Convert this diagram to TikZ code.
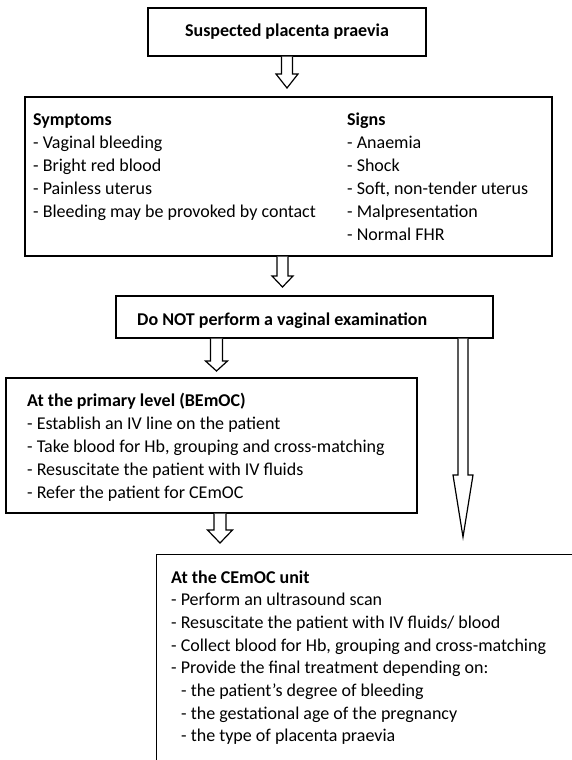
\documentclass[tikz,border=0pt]{standalone}
\usepackage{fontspec}
\setmainfont{Carlito}
\usetikzlibrary{calc}
\tikzset{
  box/.style={draw, line width=1.3pt, inner sep=0pt},
  blockarr/.style={draw, line width=1.2pt, line join=miter, fill=white},
  txt/.style={anchor=base west, inner sep=0pt, font=\fontsize{18}{23}\selectfont},
  headtxt/.style={txt, font=\fontsize{18}{23}\selectfont\bfseries},
}
% hollow block arrow: start point, tip, shaft width, head width, head length
\newcommand{\blockarrow}[5]{%
  \draw[blockarr] let \p1=(#1), \p2=(#2) in
    (\x1-#3pt/2,\y1) -- (\x1-#3pt/2,\y2+#5pt) -- (\x1-#4pt/2,\y2+#5pt)
    -- (\x2,\y2) -- (\x1+#4pt/2,\y2+#5pt) -- (\x1+#3pt/2,\y2+#5pt)
    -- (\x1+#3pt/2,\y1);}
\begin{document}
\begin{tikzpicture}[x=1pt,y=-1pt]
\useasboundingbox (0,0) rectangle (572,760);
\clip (0,0) rectangle (572,760);

% boxes
\node[box, minimum width=278pt, minimum height=48pt,
      font=\fontsize{18}{23}\selectfont\bfseries] (b1) at (287,32) {Suspected placenta praevia};
\node[box, minimum width=527pt, minimum height=159pt] (b2) at (288.5,176.5) {};
\node[box, minimum width=377pt, minimum height=42pt] (b3) at (304.5,317) {};
\node[box, minimum width=411pt, minimum height=135pt] (b4) at (211.5,445.5) {};
\node[box, minimum width=500pt, minimum height=280pt, anchor=north west] (b5) at (156,554) {};

% symptoms and signs
\node[headtxt] (symh) at (33,125) {Symptoms};
\foreach \t [count=\i] in {Vaginal bleeding, Bright red blood, Painless uterus,
    Bleeding may be provoked by contact}
  \node[txt] (sy\i) at (33,125+23*\i) {- \t};
\node[headtxt] (sigh) at (347,125) {Signs};
\foreach \t [count=\i] in {Anaemia, Shock, {Soft, non-tender uterus}, Malpresentation, Normal FHR}
  \node[txt] (sg\i) at (347,125+23*\i) {- \t};

% warning
\node[headtxt] (warn) at (137,325) {Do NOT perform a vaginal examination};

% primary level
\node[headtxt] (primh) at (27,406) {At the primary level (BEmOC)};
\foreach \t [count=\i] in {Establish an IV line on the patient,
    {Take blood for Hb, grouping and cross-matching},
    Resuscitate the patient with IV fluids, Refer the patient for CEmOC}
  \node[txt] (pr\i) at (27,406+23*\i) {- \t};

% CEmOC unit
\node[headtxt] (cemh) at (171,583) {At the CEmOC unit};
\foreach \t [count=\i] in {Perform an ultrasound scan,
    Resuscitate the patient with IV fluids/ blood,
    {Collect blood for Hb, grouping and cross-matching},
    Provide the final treatment depending on:}
  \node[txt] (ce\i) at (171,583+22.7*\i) {- \t};
\foreach \t [count=\i] in {the patient’s degree of bleeding,
    the gestational age of the pregnancy, the type of placenta praevia}
  \node[txt] (cs\i) at (181,583+22.7*4+22.7*\i) {- \t};

% arrow tips
\coordinate (t1) at (287,88);
\coordinate (t2) at (282.5,287);
\coordinate (t3) at (216.5,371);
\coordinate (t4) at (220,543);
\coordinate (t5) at (463,537);

% connectors
\blockarrow{b1.south -| t1}{t1}{11}{22}{14}
\blockarrow{b2.south -| t2}{t2}{11}{21}{11}
\blockarrow{b3.south -| t3}{t3}{12}{22}{10}
\blockarrow{b4.south -| t4}{t4}{12}{25}{13}
\blockarrow{b3.south -| t5}{t5}{10}{20}{62}
\end{tikzpicture}
\end{document}
